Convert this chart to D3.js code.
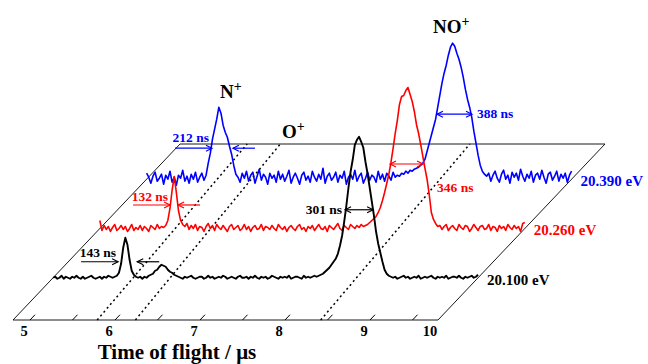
<!DOCTYPE html>
<html><head><meta charset="utf-8">
<script src="https://cdn.jsdelivr.net/npm/d3@7"></script>
<style>
body{margin:0;background:#fff}
svg{display:block}
text{font-family:"Liberation Serif","Times New Roman",serif;font-weight:bold}
</style>
</head><body>
<svg id="chart" width="648" height="364"></svg>
<script>
// ---------------- DATA ----------------
const tStart = 4.8, tStep = 0.025;          // time of flight grid (µs)
const tDomain = [4.8, 9.8];
const seriesNames = ["20.100 eV", "20.260 eV", "20.390 eV"];
const seriesDepth = [0.24, 0.52, 0.80];     // position along the depth axis

const trace20100 = [
  0, 1, -1, 0, 2, -1, 1, 0, -1, 1,
  0, 2, 0, -1, 1, -1, 0, 1, 2, 0,
  -1, 0, 1, -1, 1, 0, 2, 1, 0, 1,
  2, 5, 14, 30, 40, 33, 18, 7, 3, 1,
  0, 1, -1, 1, 0, 2, 3, 4, 7, 8,
  11, 13, 12, 11, 8, 6, 5, 3, 2, 1,
  0, -1, 1, 0, 1, 2, 0, -1, 0, 1,
  1, -1, 0, 2, 0, 1, -1, 0, 1, 0,
  2, 1, -1, 0, 1, 0, -1, 1, 2, 0,
  0, 1, -1, 1, 0, 2, 0, -1, 1, 0,
  1, -1, 0, 2, 1, 0, -1, 1, 0, 1,
  0, 2, -1, 0, 1, 1, 0, -1, 2, 0,
  1, 0, 1, 2, 1, 2, 3, 4, 6, 8,
  10, 13, 16, 19, 24, 32, 42, 56, 72, 90,
  106, 118, 133, 138, 141, 136, 130, 116, 104, 90,
  76, 62, 46, 34, 25, 16, 8, 4, 2, 1,
  0, 1, -1, 0, 1, 2, 0, 1, -1, 0,
  1, 0, 2, -1, 0, 1, 0, 1, 2, 0,
  -1, 1, 0, 1, 0, 2, -1, 0, 1, 1,
  0, 2, 0, -1, 1, 0, 1, 2, 0, 1,
  3
];
const trace20260 = [
  8, -2, 3, -1, 2, -3, 1, 4, -2, 0,
  3, -1, 2, -3, 0, 4, -2, 1, -1, 3,
  -2, 2, 0, -3, 3, 1, -1, 4, 0, 2,
  1, 3, 8, 20, 38, 52, 36, 18, 8, 4,
  2, 5, -1, 3, 0, 4, -2, 2, 1, -3,
  2, 5, 0, 3, -2, 4, 1, -1, 3, 0,
  -3, 2, 4, -1, 1, 3, -2, 0, 4, -1,
  2, -3, 1, 3, -1, 0, 4, -2, 2, 1,
  -1, 3, 0, -2, 4, 1, -1, 2, -3, 1,
  3, 0, -2, 2, 4, -1, 1, -3, 2, 0,
  3, -2, 1, 4, 0, -1, 2, -3, 3, 1,
  -1, 2, 5, 0, -2, 3, 1, -1, 4, 2,
  0, 3, 1, 4, 2, 3, 4, 6, 8, 10,
  12, 16, 21, 28, 36, 45, 54, 66, 80, 95,
  108, 124, 132, 133, 138, 141, 134, 127, 117, 104,
  95, 84, 72, 60, 49, 34, 16, 9, 5, 2,
  3, -1, 2, 4, -2, 1, 3, 0, -2, 4,
  1, -1, 3, 2, -3, 0, 4, 1, -2, 2,
  3, -1, 0, 4, -2, 2, 1, -3, 3, 0,
  2, -2, 4, 1, -1, 3, 0, 2, -3, 5,
  6
];
const trace20390 = [
  6, 2, -4, 3, 7, -2, 1, 5, -5, 4,
  0, 8, -3, 2, -6, 4, 1, 9, -2, 3,
  -4, 5, 0, 7, -3, 2, 6, -1, 4, 16,
  26, 40, 50, 60, 72, 66, 54, 47, 42, 33,
  25, 14, 5, 2, -3, 6, 1, 8, -2, 4,
  7, -4, 3, 10, -1, 5, 2, -5, 6, 1,
  4, -3, 8, 0, 5, -2, 3, 9, -4, 2,
  6, 1, -5, 4, 7, -1, 3, -3, 8, 2,
  -2, 5, 0, 11, -4, 3, 6, -1, 2, 7,
  -3, 4, 1, 8, -5, 2, 5, 0, 9, -2,
  3, 6, -4, 1, 7, -1, 4, 2, -3, 8,
  0, 5, -2, 6, 3, -1, 7, 2, 4, 3,
  6, 5, 8, 6, 9, 8, 10, 11, 12, 14,
  16, 20, 28, 36, 44, 52, 60, 72, 84, 96,
  106, 114, 124, 132, 136, 133, 126, 120, 112, 102,
  90, 80, 72, 62, 48, 36, 24, 14, 8, 5,
  3, 6, -2, 4, 8, 1, -3, 5, 9, 0,
  4, -4, 7, 2, 6, -1, 10, 3, -2, 5,
  1, 8, -3, 4, 6, 0, 9, 2, -4, 5,
  7, -1, 3, 8, -2, 5, 1, 6, -3, 4,
  8
];
const xTickValues = [5, 5.5, 6, 6.5, 7, 7.5, 8, 8.5, 9, 9.5];
const xTickLabels = [5, 6, 7, 8, 9, 10];

// dotted guide lines: time at front edge and at back edge
const guideFront = [5.79, 6.24, 8.42];
const guideBack  = [5.59, 5.98, 8.21];

// FWHM annotations
const fwhmLabels = ["143 ns", "132 ns", "212 ns", "301 ns", "346 ns", "388 ns"];
const fwhmSeries = [0, 1, 2, 0, 1, 2];
const fwhmLeft   = [5.565, 5.626, 5.569, 8.235, 8.214, 8.216];
const fwhmRight  = [5.79, 5.72, 5.816, 8.565, 8.602, 8.628];
const fwhmLevel  = [16, 23.5, 31, 68, 64.5, 65];

const ionNames = ["N", "O", "NO"];

// ---------------- STYLE / LAYOUT ----------------
const colors = ["#000000", "#ff0000", "#0000ff"];
const widths = [1.9, 1.6, 1.6];
const fwhmStyle = ["in", "in", "in", "both", "both", "both"];
const fwhmText = [
  {dx: -2, dy: -5, anchor: "end", from: "left"},
  {dx: -2, dy: -4, anchor: "end", from: "left"},
  {dx: -3, dy: -6, anchor: "end", from: "left"},
  {dx: -3, dy: 4,  anchor: "end", from: "left"},
  {dx: 14, dy: 28, anchor: "start", from: "right"},
  {dx: 5,  dy: 4,  anchor: "start", from: "right"}
];
const ionPos = [[220, 98], [282, 138], [433, 33]];

// ---------------- SCALES ----------------
const svg = d3.select("#chart");
const x = d3.scaleLinear().domain(tDomain).range([13, 438]);   // front edge
const depthX = d3.scaleLinear().domain([0, 1]).range([0, 167]);
const depthY = d3.scaleLinear().domain([0, 1]).range([320, 144]);
const inten = d3.scaleLinear().domain([0, 150]).range([0, 150]);
const px = (t, d) => x(t) + depthX(d);
const py = (d, v) => depthY(d) - inten(v);

// base plane
const corners = [[tDomain[0], 0], [tDomain[1], 0], [tDomain[1], 1], [tDomain[0], 1]];
svg.append("path")
  .attr("d", d3.line()(corners.map(c => [px(c[0], c[1]), py(c[1], 0)])) + "Z")
  .attr("fill", "none").attr("stroke", "#000").attr("stroke-width", 0.9);

// ticks along front edge
svg.append("g").selectAll("line").data(xTickValues).join("line")
  .attr("x1", d => px(d, 0)).attr("y1", py(0, 0))
  .attr("x2", d => px(d, 0.03)).attr("y2", py(0.03, 0))
  .attr("stroke", "#000").attr("stroke-width", 1);
svg.append("g").selectAll("text").data(xTickLabels).join("text")
  .attr("x", d => Math.min(px(d, 0) - 6, 430)).attr("y", 336)
  .attr("text-anchor", "middle").attr("font-size", 14.5).text(d => d);
svg.append("text").attr("x", 177).attr("y", 359).attr("text-anchor", "middle")
  .attr("font-size", 21).text("Time of flight / \u03bcs");

// dotted guide lines
svg.append("g").selectAll("line").data(guideFront).join("line")
  .attr("x1", (d) => px(d, 0)).attr("y1", py(0, 0))
  .attr("x2", (d, i) => px(guideBack[i], 1)).attr("y2", py(1, 0))
  .attr("stroke", "#000").attr("stroke-width", 1.5).attr("stroke-dasharray", "2,3");

// traces (back to front)
const traces = [trace20100, trace20260, trace20390];
[2, 1, 0].forEach(s => {
  const d = seriesDepth[s];
  const line = d3.line().x((v, i) => px(tStart + i * tStep, d)).y(v => py(d, v));
  svg.append("path").attr("d", line(traces[s]))
    .attr("fill", "none").attr("stroke", colors[s]).attr("stroke-width", widths[s])
    .attr("stroke-linejoin", "round");
  svg.append("text")
    .attr("x", px(tDomain[1], d) + 9).attr("y", py(d, 0) + 7)
    .attr("font-size", 15).attr("fill", colors[s]).text(seriesNames[s]);
});

// FWHM annotations
function head(g, xt, y, dir, c) {
  g.append("path").attr("d", `M${xt - dir * 6},${y - 3}L${xt},${y}L${xt - dir * 6},${y + 3}`)
    .attr("fill", "none").attr("stroke", c).attr("stroke-width", 1.2);
}
const ann = svg.append("g");
fwhmLabels.forEach((lab, k) => {
  const s = fwhmSeries[k], d = seriesDepth[s], c = colors[s];
  const y = py(d, fwhmLevel[k]);
  const xl = px(fwhmLeft[k], d), xr = px(fwhmRight[k], d);
  if (fwhmStyle[k] === "in") {
    ann.append("line").attr("x1", xl - 37).attr("x2", xl).attr("y1", y).attr("y2", y)
      .attr("stroke", c).attr("stroke-width", 1.2);
    head(ann, xl, y, 1, c);
    ann.append("line").attr("x1", xr + 22).attr("x2", xr).attr("y1", y).attr("y2", y)
      .attr("stroke", c).attr("stroke-width", 1.2);
    head(ann, xr, y, -1, c);
  } else {
    ann.append("line").attr("x1", xl).attr("x2", xr).attr("y1", y).attr("y2", y)
      .attr("stroke", c).attr("stroke-width", 1.2);
    head(ann, xl, y, -1, c);
    head(ann, xr, y, 1, c);
  }
  const tp = fwhmText[k];
  ann.append("text").attr("x", (tp.from === "left" ? xl : xr) + tp.dx).attr("y", y + tp.dy)
    .attr("text-anchor", tp.anchor).attr("font-size", 13.5).attr("fill", c).text(lab);
});

// ion labels
ionNames.forEach((n, k) => {
  const t = svg.append("text").attr("x", ionPos[k][0]).attr("y", ionPos[k][1])
    .attr("font-size", 19).attr("fill", "#000");
  t.append("tspan").text(n);
  t.append("tspan").attr("dy", -7).attr("font-size", 14).text("+");
});
</script>
</body></html>
